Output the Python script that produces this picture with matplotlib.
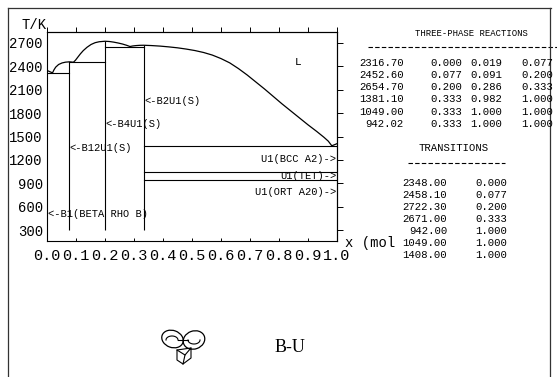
import matplotlib
matplotlib.use('Agg')
import matplotlib.pyplot as plt
from matplotlib.lines import Line2D
from matplotlib.patches import Ellipse, Polygon
import numpy as np

plt.rcParams['font.family'] = ['Liberation Mono', 'DejaVu Sans Mono']

# --- B-U phase diagram data ---
# liquidus (mole fraction U, T/K)
liq_x = [0.000, 0.006, 0.012, 0.019, 0.024, 0.030, 0.040, 0.052, 0.064, 0.077,
         0.084, 0.091, 0.098, 0.105, 0.115, 0.125, 0.138, 0.152, 0.166, 0.180, 0.200,
         0.215, 0.230, 0.245, 0.260, 0.275, 0.286, 0.296, 0.308, 0.320, 0.333,
         0.360, 0.390, 0.420, 0.450, 0.480, 0.510, 0.540, 0.570, 0.600, 0.630,
         0.660, 0.690, 0.720, 0.750, 0.780, 0.810, 0.840, 0.870, 0.900, 0.930,
         0.955, 0.970, 0.982, 0.991, 1.000]
liq_T = [2348.0, 2338.0, 2328.0, 2316.7, 2355.0, 2390.0, 2424.0, 2444.0, 2454.0, 2458.1,
         2456.0, 2452.6, 2478.0, 2512.0, 2560.0, 2602.0, 2645.0, 2681.0, 2704.0, 2716.0, 2722.3,
         2719.0, 2711.0, 2700.0, 2687.0, 2670.0, 2654.7, 2662.0, 2667.0, 2670.0, 2671.0,
         2667.0, 2660.0, 2650.0, 2638.0, 2622.0, 2603.0, 2578.0, 2545.0, 2500.0, 2445.0,
         2372.0, 2290.0, 2200.0, 2110.0, 2015.0, 1920.0, 1830.0, 1740.0, 1650.0, 1565.0,
         1490.0, 1440.0, 1381.1, 1394.0, 1408.0]

# invariant reactions: T, x_left, x_mid, x_right
inv_T = [2316.70, 2452.60, 2654.70, 1381.10, 1049.00, 942.02]
inv_x1 = [0.000, 0.077, 0.200, 0.333, 0.333, 0.333]
inv_x2 = [0.019, 0.091, 0.286, 0.982, 1.000, 1.000]
inv_x3 = [0.077, 0.200, 0.333, 1.000, 1.000, 1.000]

# congruent transitions: T, x
tr_T = [2348.00, 2458.10, 2722.30, 2671.00, 942.00, 1049.00, 1408.00]
tr_x = [0.000, 0.077, 0.200, 0.333, 1.000, 1.000, 1.000]

# stoichiometric compounds drawn as lines from 300 K to their melting point
comp_x = [0.077, 0.200, 0.333]
comp_Tm = [2458.1, 2722.3, 2671.0]
comp_Tlow = 300.0

T_ticks = [300, 600, 900, 1200, 1500, 1800, 2100, 2400, 2700]
x_ticks = [round(0.1 * i, 1) for i in range(11)]

W, H = 557, 377
fig = plt.figure(figsize=(W / 100, H / 100), dpi=100)


def fx(px):
    return px / W


def fy(py):
    return 1 - py / H


ax = fig.add_axes([fx(47), fy(241), 290 / W, 209 / H])
ax.set_xlim(0, 1)
ax.set_ylim(159, 2841)
for s in ax.spines.values():
    s.set_linewidth(0.8)

ax.plot(liq_x, liq_T, color='k', lw=0.9)
for T, a, c in zip(inv_T, inv_x1, inv_x3):
    ax.plot([a, c], [T, T], color='k', lw=0.8)
ax.vlines(comp_x, comp_Tlow, comp_Tm, color='k', lw=0.8)

ax.set_yticks(T_ticks)
ax.set_yticklabels([str(t) for t in T_ticks])
ax.tick_params(axis='y', left=False, length=0, labelsize=10, pad=3)
ax.set_xticks(x_ticks)
ax.set_xticklabels(['%.1f' % v for v in x_ticks])
ax.tick_params(axis='x', direction='in', length=2.2, width=0.7, labelsize=11, pad=6)

top = ax.secondary_xaxis('top')
top.set_xticks(x_ticks)
top.tick_params(direction='out', length=3.6, width=0.7, labeltop=False)
right = ax.secondary_yaxis('right')
right.set_yticks(T_ticks)
right.tick_params(direction='out', length=4.3, width=0.7, labelright=False)

lab = dict(fontsize=7.5, va='center')
ax.text(0.004, 506, '<-B1(BETA RHO B)', ha='left', **lab)
ax.text(0.077, 1353, '<-B12U1(S)', ha='left', **lab)
ax.text(0.200, 1660, '<-B4U1(S)', ha='left', **lab)
ax.text(0.336, 1956, '<-B2U1(S)', ha='left', **lab)
ax.text(0.866, 2456, 'L', ha='center', fontsize=8, va='center')
ax.text(0.998, 1211, 'U1(BCC A2)->', ha='right', **lab)
ax.text(0.998, 993, 'U1(TET)->', ha='right', **lab)
ax.text(0.998, 788, 'U1(ORT A20)->', ha='right', **lab)

fig.text(fx(22), fy(25), 'T/K', fontsize=10, va='center', ha='left')
fig.text(fx(345), fy(243), 'x (mol', fontsize=10, va='center', ha='left')

# tables
fig.text(fx(471), fy(34), 'THREE-PHASE REACTIONS', fontsize=6.4, ha='center', va='center')
fig.add_artist(Line2D([fx(368), fx(557)], [fy(47), fy(47)], color='k', lw=0.8,
                      linestyle=(0, (4, 2))))
row_y = [63, 75, 87, 99, 112, 124]
for yy, T, a, b, c in zip(row_y, inv_T, inv_x1, inv_x2, inv_x3):
    fig.text(fx(404), fy(yy), '%.2f' % T, fontsize=7.7, ha='right', va='center')
    fig.text(fx(462), fy(yy), '%.3f' % a, fontsize=7.7, ha='right', va='center')
    fig.text(fx(502), fy(yy), '%.3f' % b, fontsize=7.7, ha='right', va='center')
    fig.text(fx(553), fy(yy), '%.3f' % c, fontsize=7.7, ha='right', va='center')

fig.text(fx(454), fy(148), 'TRANSITIONS', fontsize=7.7, ha='center', va='center')
fig.add_artist(Line2D([fx(408), fx(505)], [fy(163), fy(163)], color='k', lw=0.8,
                      linestyle=(0, (4, 2))))
for k, (T, xx) in enumerate(zip(tr_T, tr_x)):
    yy = 183 + 12 * k
    fig.text(fx(447), fy(yy), '%.2f' % T, fontsize=7.7, ha='right', va='center')
    fig.text(fx(507), fy(yy), '%.3f' % xx, fontsize=7.7, ha='right', va='center')

fig.text(fx(290), fy(348), 'B-U', fontsize=13, ha='center', va='center',
         family=['Liberation Serif', 'DejaVu Serif'])

# page frame
for xs, ys in [([8, 551], [8, 8]), ([8, 8], [8, 377]), ([550, 550], [8, 377])]:
    fig.add_artist(Line2D([fx(v) for v in xs], [fy(v) for v in ys], color='#333', lw=0.9))

# logo
lg = fig.add_axes([fx(155), fy(368), 60 / W, 46 / H])
lg.set_xlim(155, 215)
lg.set_ylim(368, 322)
lg.axis('off')
lg.add_patch(Polygon([[177, 350], [177, 360], [183, 364], [191, 358], [191, 348]],
                     closed=True, fc='white', ec='k', lw=0.8))
lg.plot([177, 185, 191], [350, 355, 348], color='k', lw=0.8)
lg.plot([185, 183], [355, 364], color='k', lw=0.8)
lg.add_patch(Ellipse((172.5, 339), 22, 17, angle=20, fc='none', ec='k', lw=0.9))
lg.add_patch(Ellipse((194, 340), 22, 18, angle=-20, fc='none', ec='k', lw=0.9))
t = np.linspace(0, np.pi, 30)
lg.plot(172 + 6 * np.cos(t), 340 - 4 * np.sin(t), color='k', lw=0.8)
lg.plot(194 - 6 * np.cos(t), 340 + 4 * np.sin(t), color='k', lw=0.8)
lg.plot([178, 188], [340, 340], color='k', lw=0.8)

fig.savefig('out.png', dpi=100)
